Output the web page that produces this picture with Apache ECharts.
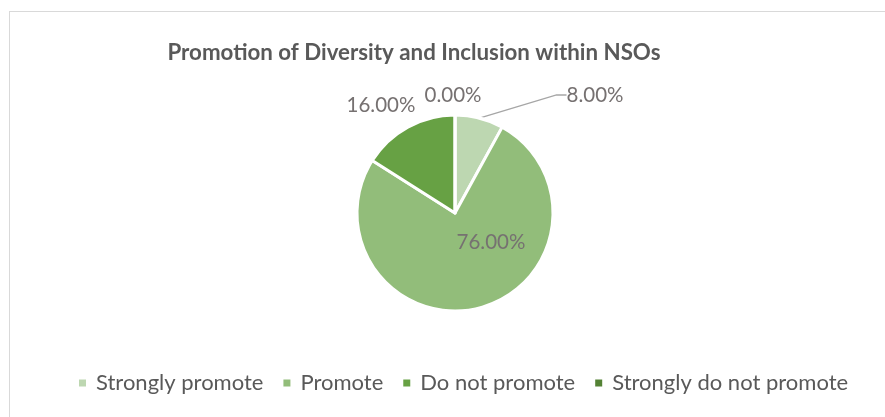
<!DOCTYPE html>
<html>
<head>
<meta charset="utf-8">
<script src="https://cdn.jsdelivr.net/npm/echarts@6/dist/echarts.min.js"></script>
<style>
  html, body { margin: 0; padding: 0; background: #fff; }
  #wrap { position: relative; width: 885px; height: 417px; overflow: hidden; }
  #frame { position: absolute; left: 9px; top: 11px; width: 900px; height: 420px;
           border: 1px solid #D9D9D9; box-sizing: border-box; }
  #chart { position: absolute; left: 0; top: 0; width: 885px; height: 417px; }
</style>
</head>
<body>
<div id="wrap">
  <div id="frame"></div>
  <div id="chart"></div>
</div>
<script>
// Survey responses (share of NSOs, %)
const categories = ['Strongly promote', 'Promote', 'Do not promote', 'Strongly do not promote'];
const shares = [8, 76, 16, 0];
const colors = ['#BDD7B1', '#92BD7A', '#67A144', '#548235'];

const FONT = 'Lato, "Open Sans", sans-serif';

// Where each slice's value label sits (centre of the text)
const labelSpots = [
  { x: 595, y: 95 },
  { x: 491, y: 242 },
  { x: 381, y: 105 },
  { x: 453, y: 95 }
];

const chart = echarts.init(document.getElementById('chart'), null, { renderer: 'canvas' });

chart.setOption({
  animation: false,
  title: {
    text: 'Promotion of Diversity and Inclusion within NSOs',
    left: 409,
    top: 37,
    textAlign: 'center',
    textStyle: { fontFamily: FONT, fontWeight: 'bold', fontSize: 22.3, color: '#595959' }
  },
  legend: {
    top: 367,
    left: 72,
    icon: 'rect',
    itemWidth: 9,
    itemHeight: 9,
    itemGap: 18,
    data: categories,
    textStyle: { fontFamily: FONT, fontSize: 22, color: '#595959', padding: [0, 0, 0, 4] }
  },
  series: [{
    type: 'pie',
    center: [455, 213],
    radius: 98,
    startAngle: 90,
    clockwise: true,
    minShowLabelAngle: 0,
    itemStyle: { borderColor: '#fff', borderWidth: 3 },
    label: {
      show: true,
      fontFamily: FONT,
      fontSize: 20.5,
      color: '#767171',
      formatter: p => p.value.toFixed(2) + '%'
    },
    labelLine: { show: false },
    labelLayout: p => {
      const s = labelSpots[p.dataIndex];
      return { x: s.x, y: s.y, align: 'center', verticalAlign: 'middle' };
    },
    data: categories.map((name, i) => {
      const d = { name, value: shares[i], itemStyle: { color: colors[i] } };
      if (i === 0) {
        d.labelLine = { show: true, length: 20, length2: 10, lineStyle: { color: '#A6A6A6', width: 1.3 } };
      }
      if (i === 1) {
        d.label = { position: 'inside' };
      }
      return d;
    })
  }]
});
</script>
</body>
</html>
